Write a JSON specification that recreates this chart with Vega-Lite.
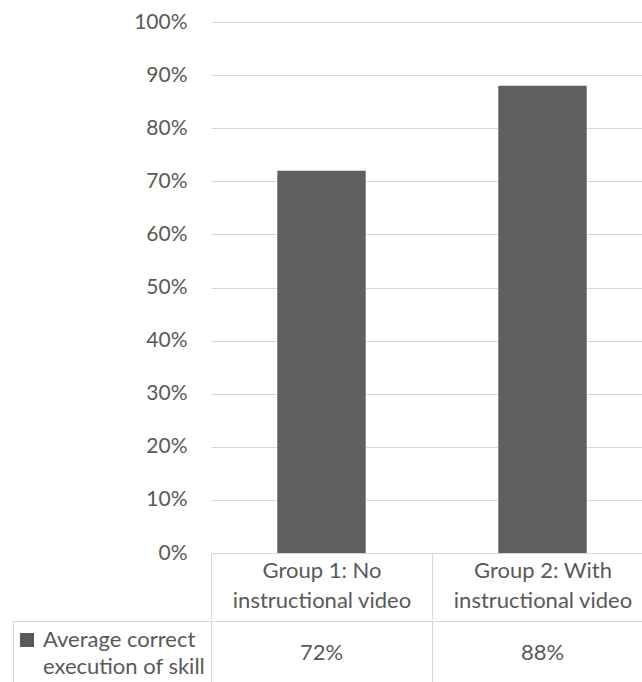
{
  "$schema": "https://vega.github.io/schema/vega-lite/v6.json",
  "padding": {"left": 12, "top": 11, "right": -10, "bottom": -5},
  "background": "white",
  "config": {
    "font": "Lato",
    "axis": {"labelFont": "Lato", "labelFontSize": 22, "labelColor": "#595959"},
    "text": {"font": "Lato"},
    "legend": {"labelFont": "Lato"}
  },
  "data": {
    "values": [
      {"group": "Group 1: No instructional video", "series": "Average correct execution of skill", "value": 0.72},
      {"group": "Group 2: With instructional video", "series": "Average correct execution of skill", "value": 0.88}
    ]
  },
  "spacing": 0,
  "vconcat": [
    {
      "width": 442,
      "height": 531,
      "view": {"stroke": null},
      "mark": {"type": "bar", "color": "#5f5f5f", "width": {"band": 0.4}},
      "encoding": {
        "x": {
          "field": "group", "type": "nominal", "sort": null,
          "scale": {"type": "band", "paddingInner": 0, "paddingOuter": 0},
          "axis": {
            "title": null, "labelAngle": 0, "labelLimit": 300,
            "labelExpr": "[slice(datum.label, 0, indexof(datum.label, ' instr')), slice(datum.label, indexof(datum.label, ' instr') + 1)]",
            "labelLineHeight": 30, "labelPadding": -59,
            "domainColor": "#d9d9d9", "ticks": true, "tickColor": "#d9d9d9", "tickBand": "extent", "tickSize": 66
          }
        },
        "y": {
          "field": "value", "type": "quantitative",
          "scale": {"domain": [0, 1], "nice": false},
          "axis": {
            "title": null, "format": ".0%", "labelFontSize": 21,
            "values": [0, 0.1, 0.2, 0.3, 0.4, 0.5, 0.6, 0.7, 0.8, 0.9, 1],
            "grid": true, "gridColor": "#d9d9d9", "domain": false, "ticks": false,
            "labelPadding": 24
          }
        }
      }
    },
    {
      "width": 442,
      "height": 66,
      "view": {"stroke": "#d9d9d9"},
      "layer": [
        {
          "mark": {"type": "text", "fontSize": 22, "font": "Lato", "dy": -1},
          "encoding": {
            "x": {
              "field": "group", "type": "nominal", "sort": null,
              "scale": {"type": "band", "paddingInner": 0, "paddingOuter": 0},
              "axis": {"title": null, "labels": false, "ticks": false, "domain": false, "grid": true, "gridColor": "#d9d9d9", "tickBand": "extent"}
            },
            "y": {
              "field": "series", "type": "nominal",
              "scale": {"type": "band", "paddingInner": 0, "paddingOuter": 0},
              "axis": {
                "title": null, "domain": false, "labels": false, "ticks": true, "tickBand": "extent",
                "tickSize": 198, "tickColor": "#d9d9d9"
              }
            },
            "color": {
              "field": "series", "type": "nominal",
              "scale": {"range": ["#595959"]},
              "legend": {
                "title": null, "orient": "none", "legendX": -195, "legendY": 607, "padding": 0,
                "symbolType": "square", "symbolSize": 196, "symbolFillColor": "#5f5f5f",
                "symbolStrokeWidth": 0, "symbolOpacity": 1,
                "labelFontSize": 22, "labelColor": "#595959", "labelLimit": 300,
                "labelOffset": 5,
                "labelExpr": "[slice(datum.label, 0, indexof(datum.label, ' execution')), slice(datum.label, indexof(datum.label, ' execution') + 1)]",
                "encode": {"labels": {"update": {"lineHeight": {"value": 27}}}}
              }
            },
            "text": {"field": "value", "type": "quantitative", "format": ".0%"}
          }
        },
        {
          "mark": {"type": "text", "text": ""},
          "encoding": {
            "y": {
              "field": "series", "type": "nominal",
              "scale": {"type": "band", "paddingInner": 0, "paddingOuter": 0},
              "axis": {"orient": "left", "offset": 198, "title": null, "labels": false, "ticks": false, "grid": false, "domain": true, "domainColor": "#d9d9d9"}
            }
          }
        }
      ],
      "resolve": {"axis": {"y": "independent"}}
    }
  ]
}
